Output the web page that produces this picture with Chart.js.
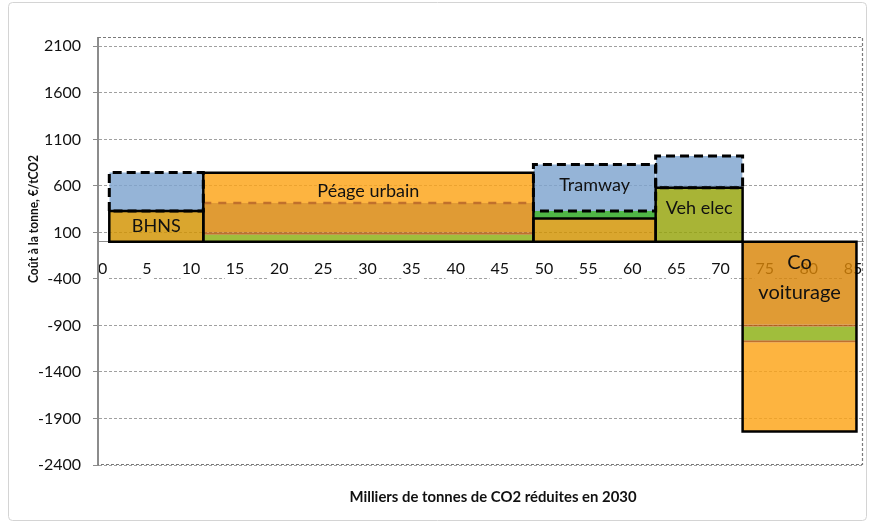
<!DOCTYPE html>
<html>
<head>
<meta charset="utf-8">
<script src="https://cdn.jsdelivr.net/npm/chart.js@4.4.0/dist/chart.umd.min.js"></script>
<style>
  html, body { margin: 0; padding: 0; background: #ffffff; }
  #wrap { width: 869px; height: 524px; position: relative; }
</style>
</head>
<body>
<div id="wrap"><canvas id="c" width="869" height="524"></canvas></div>
<script>
// ---------------- DATA ----------------
const categories = ['BHNS', 'Péage urbain', 'Tramway', 'Veh elec', 'Co voiturage'];
// emission reductions (thousand tCO2) covered by each project: start / end on x axis
const xFrom = [0.75, 11.4, 48.8, 62.65, 72.5];
const xTo   = [11.4, 48.8, 62.65, 72.5, 85.4];
// cumulative cost levels (€/tCO2) of the stacked layers of each project, from 0 outwards
const bhnsLevels    = [0, 330, 745];
const peageLevels   = [0, 75, 100, 417, 740];
const tramwayLevels = [0, 250, 330, 830];
const vehElecLevels = [0, 580, 920];
const covoitLevels  = [0, -890, -912, -1058, -1080, -2040];
// axis ticks
const xTicks = [0, 5, 10, 15, 20, 25, 30, 35, 40, 45, 50, 55, 60, 65, 70, 75, 80, 85];
const yTicks = [2100, 1600, 1100, 600, 100, -400, -900, -1400, -1900, -2400];
const xTitle = 'Milliers de tonnes de CO2 réduites en 2030';
const yTitle = 'Coût à la tonne, €/tCO2';

// ---------------- STYLE ----------------
const A = 0.82;
function tint(r, g, b) { // colour that gives (r,g,b) over white at alpha A
  const f = v => Math.max(0, Math.min(255, Math.round((v - 255 * (1 - A)) / A)));
  return `rgba(${f(r)},${f(g)},${f(b)},${A})`;
}
const palette = {
  blue: tint(149, 180, 215),
  gold: tint(218, 166, 38),
  orangeLight: tint(253, 180, 64),
  orangeDark: tint(224, 155, 52),
  brown: tint(192, 112, 42),
  olive: tint(168, 180, 54),
  green2: tint(160, 190, 60),
  green: tint(80, 182, 70)
};
const projLevels = [bhnsLevels, peageLevels, tramwayLevels, vehElecLevels, covoitLevels];
const fillKinds = [
  ['gold', 'blue'],
  ['green2', 'brown', 'orangeDark', 'orangeLight'],
  ['gold', 'green', 'blue'],
  ['olive', 'blue'],
  ['orangeDark', 'brown', 'green2', 'brown', 'orangeLight']
];
// [project, from level index, to level index, dashed?]
const outlineSpec = [
  [0, 1, 2, true], [2, 2, 3, true], [3, 1, 2, true],
  [0, 0, 1, false], [1, 0, 4, false], [2, 0, 1, false], [3, 0, 1, false], [4, 0, 5, false]
];
const labelAnchor = [[0, 0, 0], [1, 3, 3], [2, 2, -3], [3, 0, -7], [4, 0, -6]]; // project, layer, px shift
const labelSize = [18, 18, 18, 18, 20];
const FONT = 'Lato';

// ---------------- DATASETS ----------------
const datasets = [];
projLevels.forEach((lv, p) => {
  for (let i = 0; i < lv.length - 1; i++) {
    datasets.push({
      data: [{ x: xFrom[p], y: lv[i + 1] }, { x: xTo[p], y: lv[i + 1] }],
      fill: { value: lv[i] },
      backgroundColor: palette[fillKinds[p][i]],
      borderWidth: 0, pointRadius: 0, order: 4
    });
  }
});
// Péage: dashed separator between the two orange layers
datasets.push({
  data: [{ x: xFrom[1], y: peageLevels[3] }, { x: xTo[1], y: peageLevels[3] }],
  fill: false, borderColor: '#C0702C', borderWidth: 2.5, borderDash: [8, 7],
  pointRadius: 0, order: 3
});
outlineSpec.forEach(([p, a, b, dashed]) => {
  const lv = projLevels[p];
  datasets.push({
    data: [
      { x: xFrom[p], y: lv[a] }, { x: xFrom[p], y: lv[b] },
      { x: xTo[p], y: lv[b] }, { x: xTo[p], y: lv[a] }, { x: xFrom[p], y: lv[a] }
    ],
    fill: false, borderColor: '#000000',
    borderWidth: dashed ? 3 : 2.5,
    borderDash: dashed ? [9, 5] : [],
    borderJoinStyle: 'miter', borderCapStyle: dashed ? 'butt' : 'square',
    pointRadius: 0, order: dashed ? 2 : 1
  });
});

// ---------------- PLUGIN ----------------
const decor = {
  id: 'decor',
  beforeDraw(chart) {
    const ctx = chart.ctx;
    ctx.save();
    ctx.fillStyle = '#ffffff';
    ctx.fillRect(0, 0, chart.width, chart.height);
    ctx.strokeStyle = '#d4d4d4';
    ctx.lineWidth = 1;
    ctx.beginPath();
    ctx.roundRect(8.5, 2.5, 858, 518, 4);
    ctx.stroke();
    ctx.restore();
  },
  afterDatasetsDraw(chart) {
    const ctx = chart.ctx, xs = chart.scales.x, ys = chart.scales.y;
    ctx.save();
    ctx.fillStyle = '#111111';
    ctx.textAlign = 'center';
    ctx.textBaseline = 'middle';
    labelAnchor.forEach(([p, layer, shift], k) => {
      const lv = projLevels[p];
      const cx = xs.getPixelForValue((xFrom[p] + xTo[p]) / 2);
      const cy = (ys.getPixelForValue(lv[layer]) + ys.getPixelForValue(lv[layer + 1])) / 2 + shift;
      ctx.font = `${labelSize[k]}px ${FONT}`;
      const text = categories[p];
      if (p === 4) {
        const parts = text.split(' ');
        ctx.fillText(parts[0], cx, cy - 15);
        ctx.fillText(parts[1], cx, cy + 15);
      } else {
        ctx.fillText(text, cx, cy);
      }
    });
    ctx.restore();
  },
  afterDraw(chart) {
    const ctx = chart.ctx, a = chart.chartArea;
    ctx.save();
    // solid vertical axis line
    ctx.strokeStyle = '#8c8c8c';
    ctx.lineWidth = 1;
    ctx.beginPath();
    ctx.moveTo(a.left - 0.5, a.top); ctx.lineTo(a.left - 0.5, a.bottom);
    ctx.stroke();
    // dashed plot-area frame (top, right, bottom)
    ctx.strokeStyle = '#7a7a7a';
    ctx.lineWidth = 1.2;
    ctx.setLineDash([3, 2]);
    ctx.beginPath();
    ctx.moveTo(a.left, a.top + 0.5); ctx.lineTo(a.right - 0.5, a.top + 0.5);
    ctx.lineTo(a.right - 0.5, a.bottom - 0.5); ctx.lineTo(a.left, a.bottom - 0.5);
    ctx.stroke();
    ctx.setLineDash([]);
    // axis titles
    ctx.fillStyle = '#111111';
    ctx.textAlign = 'center';
    ctx.textBaseline = 'middle';
    ctx.font = `bold 15px ${FONT}`;
    ctx.fillText(xTitle, 493, 497, 287);
    ctx.font = `bold 14px ${FONT}`;
    ctx.translate(33, 219);
    ctx.rotate(-Math.PI / 2);
    ctx.fillText(yTitle, 0, 0, 128);
    ctx.restore();
  }
};

new Chart(document.getElementById('c'), {
  type: 'line',
  data: { datasets },
  plugins: [decor],
  options: {
    responsive: false,
    animation: false,
    events: [],
    layout: { padding: { left: 0, top: 37, right: 6, bottom: 59 } },
    plugins: { legend: { display: false }, tooltip: { enabled: false } },
    scales: {
      x: {
        type: 'linear', min: -0.53, max: 86.14,
        position: { y: 0 },
        afterBuildTicks: s => { s.ticks = xTicks.map(v => ({ value: v })); },
        afterFit: s => { s.paddingLeft = 0; s.paddingRight = 0; },
        grid: { display: false, drawTicks: false },
        border: { display: true, color: '#8c8c8c', width: 1 },
        ticks: {
          font: { family: FONT, size: 16 }, color: '#111111', padding: 18,
          maxRotation: 0, autoSkip: false, callback: v => String(v),
          showLabelBackdrop: true, backdropColor: '#ffffff', backdropPadding: { x: 1, y: 1 }
        }
      },
      y: {
        type: 'linear', min: -2400, max: 2200,
        afterBuildTicks: s => { s.ticks = yTicks.map(v => ({ value: v })); },
        afterFit: s => { s.width = 98; s.paddingTop = 0; s.paddingBottom = 0; },
        grid: { color: '#a0a0a0', lineWidth: 1, drawTicks: true, tickLength: 5, tickColor: '#8c8c8c', tickBorderDash: [] },
        border: { display: true, color: '#8c8c8c', width: 1, dash: [3, 2] },
        ticks: { font: { family: FONT, size: 16 }, color: '#111111', padding: 12, callback: v => String(v) }
      }
    }
  }
});
</script>
</body>
</html>
